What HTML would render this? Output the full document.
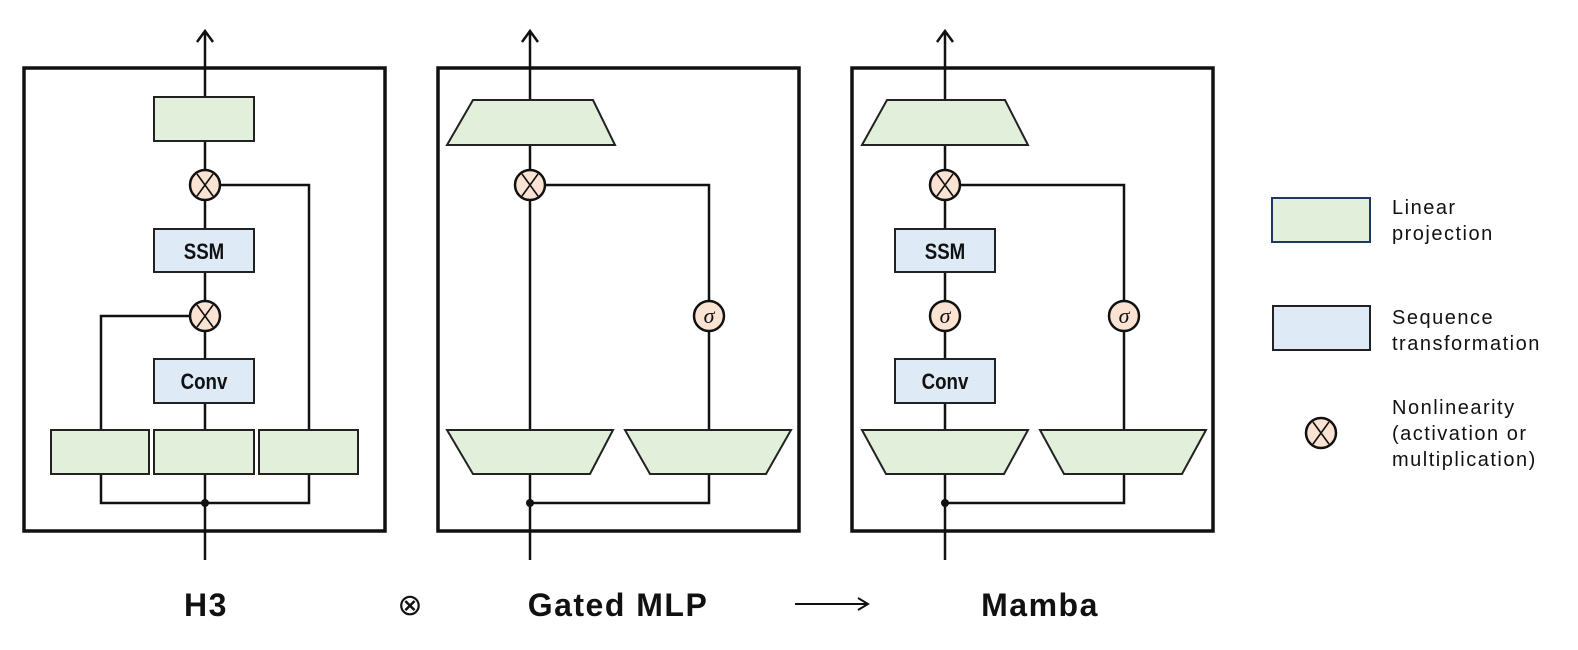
<!DOCTYPE html>
<html><head><meta charset="utf-8"><style>
html,body{margin:0;padding:0;background:#fff;}
svg{display:block;}
.t{font-family:"Liberation Sans",sans-serif;}
</style></head><body>
<svg width="1578" height="650" viewBox="0 0 1578 650" xmlns="http://www.w3.org/2000/svg">
<defs>
<g id="mul"><circle r="15" fill="#fbe3d4" stroke="#111" stroke-width="2.5"/><path d="M-8,-11 L8,11 M8,-11 L-8,11" stroke="#111" stroke-width="1.6"/></g>
<g id="sig"><circle r="15" fill="#fbe3d4" stroke="#111" stroke-width="2.5"/><text y="7" text-anchor="middle" font-family="Liberation Serif,serif" font-style="italic" font-size="22" fill="#111">σ</text></g>
</defs>
<g fill="none" stroke="#111" stroke-width="2.5">
<rect x="24" y="68" width="361" height="463" stroke-width="3.5"/>
<rect x="438" y="68" width="361" height="463" stroke-width="3.5"/>
<rect x="852" y="68" width="361" height="463" stroke-width="3.5"/>
<path d="M205,560 V32 M197,42 L205,31 L213,42"/>
<path d="M101,474 V503 H309 V474 M101,430 V316 H190 M309,430 V185 H220"/>
<path d="M530,560 V32 M522,42 L530,31 L538,42"/>
<path d="M530,503 H709 V474 M709,430 V185 H545"/>
<path d="M945,560 V32 M937,42 L945,31 L953,42"/>
<path d="M945,503 H1124 V474 M1124,430 V185 H960"/>
</g>
<g stroke="#222" stroke-width="2">
<rect x="154" y="97" width="100" height="44" fill="#e2efda"/>
<rect x="154" y="229" width="100" height="43" fill="#deeaf6"/>
<rect x="154" y="359" width="100" height="44" fill="#deeaf6"/>
<rect x="51" y="430" width="98" height="44" fill="#e2efda"/>
<rect x="154" y="430" width="100" height="44" fill="#e2efda"/>
<rect x="259" y="430" width="99" height="44" fill="#e2efda"/>
<polygon points="473,100 593,100 615,145 447,145" fill="#e2efda"/>
<polygon points="447,430 613,430 590,474 473,474" fill="#e2efda"/>
<polygon points="625,430 791,430 766,474 650,474" fill="#e2efda"/>
<polygon points="887,100 1005,100 1028,145 862,145" fill="#e2efda"/>
<rect x="895" y="229" width="100" height="43" fill="#deeaf6"/>
<rect x="895" y="359" width="100" height="44" fill="#deeaf6"/>
<polygon points="862,430 1028,430 1004,474 886,474" fill="#e2efda"/>
<polygon points="1040,430 1206,430 1182,474 1064,474" fill="#e2efda"/>
<rect x="1272" y="198" width="98" height="44" fill="#e2efda" stroke="#1f3864"/>
<rect x="1273" y="306" width="97" height="44" fill="#deeaf6"/>
</g>
<circle cx="205" cy="503" r="4" fill="#111"/>
<circle cx="530" cy="503" r="4" fill="#111"/>
<circle cx="945" cy="503" r="4" fill="#111"/>
<use href="#mul" x="205" y="185"/>
<use href="#mul" x="205" y="316"/>
<use href="#mul" x="530" y="185"/>
<use href="#sig" x="709" y="316"/>
<use href="#mul" x="945" y="185"/>
<use href="#sig" x="945" y="316"/>
<use href="#sig" x="1124" y="316"/>
<use href="#mul" x="1321" y="433"/>
<g class="t" font-weight="bold" font-size="22" fill="#111" text-anchor="middle">
<text x="204" y="259" transform="translate(204 0) scale(0.85 1) translate(-204 0)">SSM</text>
<text x="204" y="389" transform="translate(204 0) scale(0.85 1) translate(-204 0)">Conv</text>
<text x="945" y="259" transform="translate(945 0) scale(0.85 1) translate(-945 0)">SSM</text>
<text x="945" y="389" transform="translate(945 0) scale(0.85 1) translate(-945 0)">Conv</text>
</g>
<g class="t" font-size="20" fill="#111" letter-spacing="1.5">
<text x="1392" y="214">Linear</text>
<text x="1392" y="240">projection</text>
<text x="1392" y="324">Sequence</text>
<text x="1392" y="350">transformation</text>
<text x="1392" y="414">Nonlinearity</text>
<text x="1392" y="440">(activation or</text>
<text x="1392" y="466">multiplication)</text>
</g>
<g class="t" font-size="32" font-weight="bold" fill="#111" text-anchor="middle" letter-spacing="1.5">
<text x="206" y="616">H3</text>
<text x="618" y="616">Gated MLP</text>
<text x="1040" y="616">Mamba</text>
</g>
<text x="410" y="615" text-anchor="middle" font-family="DejaVu Sans,sans-serif" font-size="30" fill="#111">⊗</text>
<path d="M795,604 H866 M858,598 L868,604 L858,610" stroke="#111" stroke-width="2" fill="none"/>
</svg>
</body></html>
